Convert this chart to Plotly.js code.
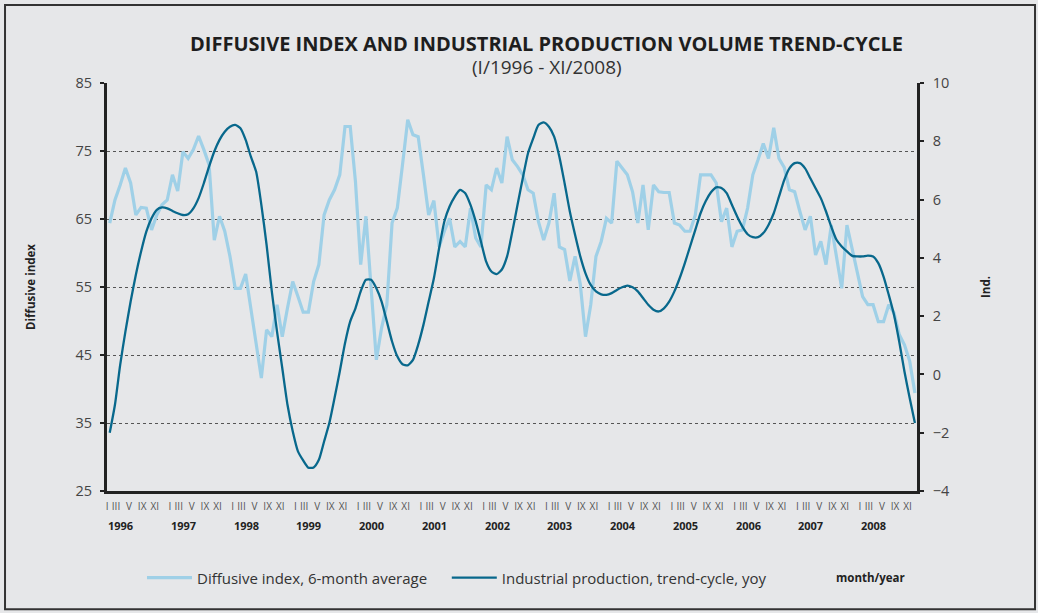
<!DOCTYPE html>
<html>
<head>
<meta charset="utf-8">
<script src="https://cdn.plot.ly/plotly-3.0.1.min.js"></script>
<style>
    html, body { margin: 0; padding: 0; background: #e6e7e9; }
    #chart { width: 1038px; height: 613px; }
</style>
</head>
<body>
<div id="chart"></div>
<script>
// Monthly data, I/1996 - XI/2008 (155 months)
const years = [1996, 1997, 1998, 1999, 2000, 2001, 2002, 2003, 2004, 2005, 2006, 2007, 2008];
const monthLabels = ['I', 'III', 'V', 'IX', 'XI'];

// Diffusive index, 6-month average (left axis)
const diffusive = [
    64.4, 67.8, 70.0, 72.5, 70.3, 65.6, 66.7, 66.6, 63.4, 65.6, 67.1, 67.8,
    71.5, 69.1, 74.9, 73.9, 75.2, 77.2, 75.2, 73.0, 61.9, 65.4, 63.2, 59.5,
    54.8, 54.8, 56.9, 51.9, 47.0, 41.6, 48.7, 47.7, 52.4, 47.7, 51.9, 55.8,
    53.6, 51.3, 51.3, 55.8, 58.3, 65.6, 67.8, 69.3, 71.5, 78.6, 78.6, 70.5,
    58.3, 65.4, 54.8, 44.3, 49.0, 52.4, 64.4, 66.6, 73.0, 79.6, 77.4, 77.1,
    71.5, 65.6, 67.7, 60.9, 63.2, 65.1, 60.9, 61.7, 60.9, 66.6, 62.2, 60.9,
    70.0, 69.3, 72.5, 70.3, 77.1, 73.7, 72.7, 71.5, 69.3, 68.8, 64.6, 61.9,
    64.4, 68.8, 60.9, 60.5, 55.9, 59.5, 55.4, 47.7, 52.4, 59.5, 61.7, 65.1,
    64.4, 73.5, 72.5, 71.5, 69.0, 64.4, 70.0, 63.4, 70.0, 69.0, 68.9, 68.9,
    64.4, 64.1, 63.2, 63.2, 65.6, 71.5, 71.5, 71.5, 70.3, 64.6, 66.6, 60.9,
    63.2, 63.4, 66.6, 71.5, 73.7, 76.1, 73.9, 78.4, 73.9, 72.6, 69.3, 69.0,
    66.1, 63.4, 65.4, 59.7, 61.7, 58.3, 64.1, 59.7, 54.8, 64.1, 60.7, 56.8,
    53.6, 52.4, 52.4, 49.9, 49.9, 52.4, 51.2, 48.0, 46.5, 44.1, 39.4
];

// Industrial production, trend-cycle, yoy (right axis)
const industrial = [
    -2.0, -1.04, 0.33, 1.47, 2.5, 3.42, 4.22, 4.9, 5.36, 5.65, 5.73, 5.7,
    5.61, 5.53, 5.47, 5.5, 5.7, 6.05, 6.56, 7.13, 7.65, 8.05, 8.33, 8.5,
    8.56, 8.45, 8.05, 7.47, 6.96, 5.82, 4.45, 2.85, 1.47, 0.22, -1.04, -1.95,
    -2.64, -2.95, -3.2, -3.19, -2.93, -2.3, -1.67, -0.81, 0.1, 1.07, 1.82, 2.27,
    2.85, 3.25, 3.25, 2.96, 2.5, 1.82, 1.13, 0.62, 0.35, 0.31, 0.5, 1.02,
    1.7, 2.5, 3.3, 4.33, 5.25, 5.76, 6.1, 6.33, 6.22, 5.82, 5.25, 4.56,
    3.87, 3.53, 3.44, 3.6, 4.05, 4.9, 5.82, 6.73, 7.59, 8.1, 8.56, 8.65,
    8.5, 8.16, 7.47, 6.56, 5.59, 4.79, 4.05, 3.47, 3.07, 2.85, 2.75, 2.73,
    2.79, 2.9, 2.99, 3.05, 2.99, 2.85, 2.62, 2.39, 2.22, 2.16, 2.27, 2.5,
    2.85, 3.3, 3.82, 4.39, 4.96, 5.53, 5.95, 6.25, 6.42, 6.4, 6.22, 5.82,
    5.42, 5.07, 4.81, 4.71, 4.71, 4.85, 5.13, 5.53, 6.1, 6.67, 7.07, 7.25,
    7.25, 7.07, 6.73, 6.39, 6.05, 5.59, 5.07, 4.62, 4.39, 4.22, 4.07, 4.05,
    4.05, 4.08, 4.05, 3.82, 3.36, 2.73, 2.05, 1.13, 0.1, -0.81, -1.67
];

const months = diffusive.map((_, i) => i);

// x tick labels: five roman numerals per year, spread evenly like the original
const labelOffsets = [0, 1.7, 4.2, 6.7, 9.1];
const tickvals = [];
const ticktext = [];
years.forEach((y, k) => {
    monthLabels.forEach((lab, j) => {
        tickvals.push(12 * k - 0.5 + labelOffsets[j]);
        ticktext.push(lab);
    });
});

const FONT = "'Open Sans', Lato, sans-serif";
const LIGHT = '#9fd0e7';
const DARK = '#08688c';

const traces = [
    {
        type: 'scatter',
        mode: 'lines',
        name: 'Diffusive index, 6-month average',
        x: months,
        y: diffusive,
        line: { color: LIGHT, width: 3.2 },
        legend: 'legend',
        yaxis: 'y'
    },
    {
        type: 'scatter',
        mode: 'lines',
        name: 'Industrial production, trend-cycle, yoy',
        x: months,
        y: industrial,
        line: { color: DARK, width: 2.3, shape: 'spline', smoothing: 0.6 },
        legend: 'legend2',
        yaxis: 'y2'
    }
];

const yearNotes = years.map((y, k) => ({
    xref: 'x', yref: 'paper',
    x: 12 * k - 0.5, xshift: -1, y: -0.085,
    xanchor: 'left', yanchor: 'middle',
    text: '<b>' + y + '</b>',
    showarrow: false,
    font: { family: FONT, size: 11, color: '#222' }
}));

const legendStyle = {
    orientation: 'h',
    y: -0.213, yanchor: 'middle',
    bgcolor: 'rgba(0,0,0,0)',
    font: { family: FONT, size: 15, color: '#333' },
    itemwidth: 45,
    visible: true
};

const layout = {
    width: 1038,
    height: 613,
    margin: { l: 107, r: 121, t: 83, b: 121.5 },
    paper_bgcolor: '#e6e7e9',
    plot_bgcolor: '#e6e7e9',
    font: { family: FONT, color: '#444' },
    showlegend: true,
    title: {
        text: '<b>DIFFUSIVE INDEX AND INDUSTRIAL PRODUCTION VOLUME TREND-CYCLE</b>',
        font: { family: FONT, size: 20, color: '#1e1e1e' },
        xref: 'paper', x: 0.5426, xanchor: 'center',
        yref: 'container', y: 0.929, yanchor: 'middle'
    },
    xaxis: {
        range: [-0.52, 154.4],
        showgrid: false,
        zeroline: false,
        showline: true,
        linecolor: '#222',
        linewidth: 3,
        ticks: '',
        tickmode: 'array',
        tickvals: tickvals,
        ticktext: ticktext,
        tickangle: 0,
        tickfont: { family: FONT, size: 10, color: '#555' },
        ticklabelstandoff: 4
    },
    yaxis: {
        range: [25, 85],
        tick0: 25,
        dtick: 10,
        showgrid: true,
        gridcolor: '#555',
        griddash: '3px,3px',
        gridwidth: 1,
        zeroline: false,
        showline: true,
        linecolor: '#222',
        linewidth: 3,
        ticks: 'outside',
        ticklen: 4,
        tickwidth: 2,
        tickcolor: '#222',
        tickfont: { family: FONT, size: 14.5, color: '#444' },
        ticklabelstandoff: 5,
        title: {
            text: '<b>Diffusive index</b>',
            font: { family: FONT, size: 11.5, color: '#222' },
            standoff: 38
        }
    },
    yaxis2: {
        overlaying: 'y',
        side: 'right',
        range: [-4, 10],
        tick0: -4,
        dtick: 2,
        showgrid: false,
        zeroline: false,
        showline: true,
        linecolor: '#222',
        linewidth: 2.5,
        ticks: 'outside',
        ticklen: 4,
        tickwidth: 2,
        tickcolor: '#222',
        tickfont: { family: FONT, size: 14.5, color: '#444' },
        ticklabelstandoff: 6,
        title: {
            text: '<b>Ind.</b>',
            font: { family: FONT, size: 11.5, color: '#222' },
            standoff: 34
        }
    },
    legend: Object.assign({ x: 0.0432, xanchor: 'left' }, legendStyle),
    legend2: Object.assign({ x: 0.4195, xanchor: 'left' }, legendStyle),
    annotations: yearNotes.concat([
        {
            xref: 'paper', yref: 'paper',
            x: 0.5426, y: 1.0392,
            xanchor: 'center', yanchor: 'middle',
            text: '(I/1996 - XI/2008)',
            showarrow: false,
            font: { family: FONT, size: 19, color: '#333' }
        },
        {
            xref: 'paper', yref: 'paper',
            x: 0.943, y: -0.213,
            xanchor: 'center', yanchor: 'middle',
            text: '<b>month/year</b>',
            showarrow: false,
            font: { family: FONT, size: 11.5, color: '#222' }
        }
    ]),
    shapes: [
        {
            type: 'rect', xref: 'paper', yref: 'paper',
            x0: -0.1259, x1: 1.1457, y0: -0.2901, y1: 1.191,
            line: { color: '#333', width: 2 },
            fillcolor: 'rgba(0,0,0,0)',
            layer: 'below'
        }
    ]
};

Plotly.newPlot('chart', traces, layout, { displayModeBar: false, responsive: false });
</script>
</body>
</html>
